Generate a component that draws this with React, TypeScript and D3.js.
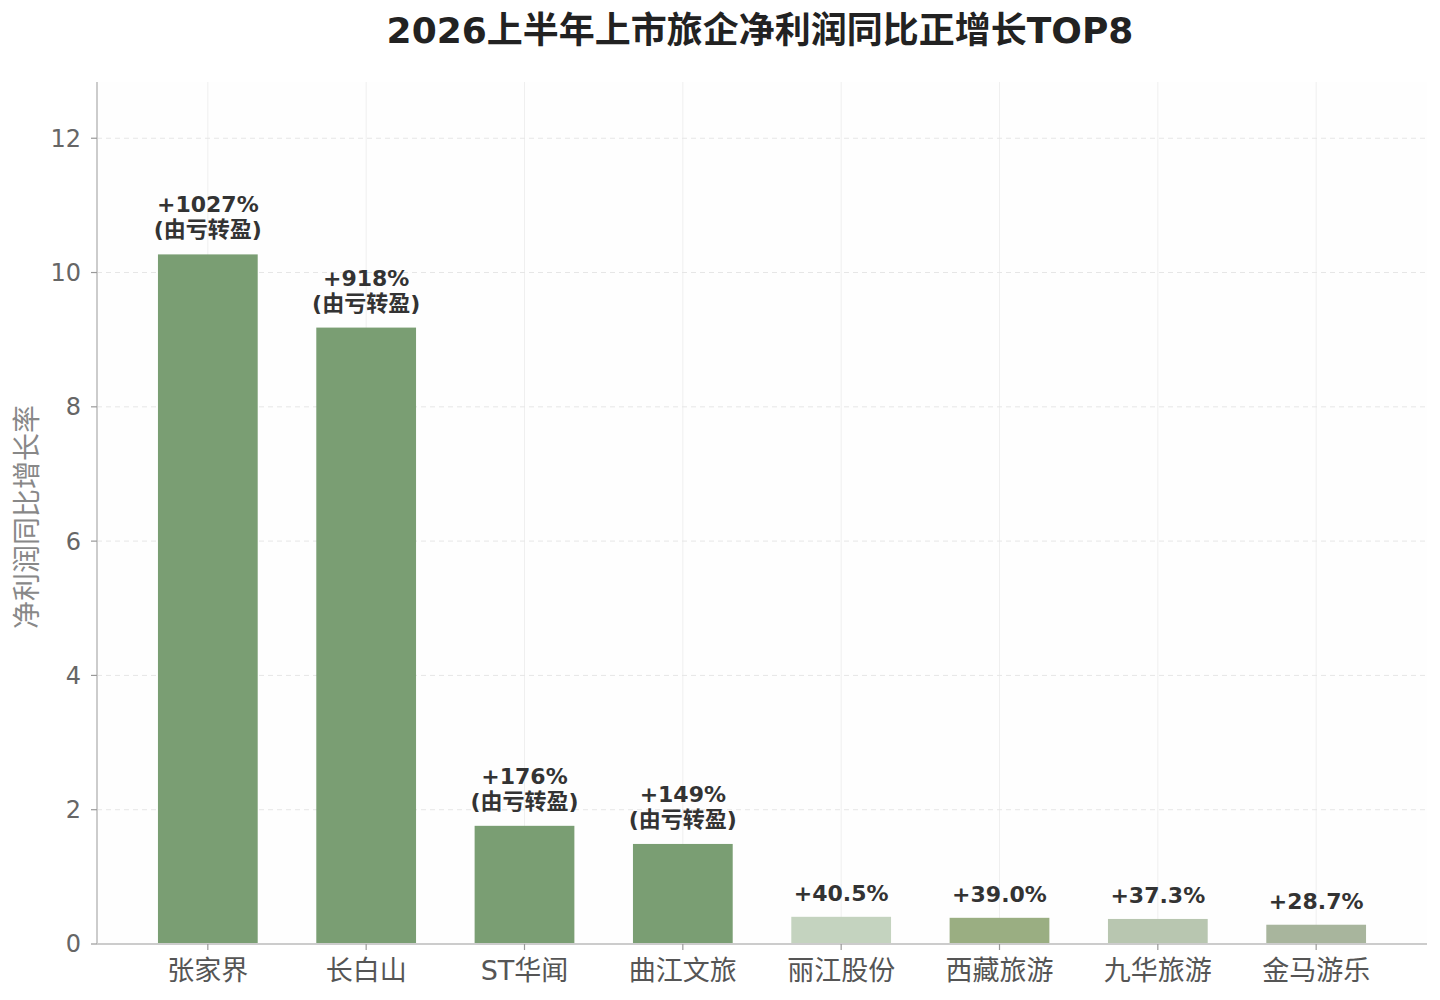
import * as d3 from 'd3'
import { useEffect } from 'react'

// data
const companies = ['张家界', '长白山', 'ST华闻', '曲江文旅', '丽江股份', '西藏旅游', '九华旅游', '金马游乐']
const growthPct = [1027, 918, 176, 149, 40.5, 39.0, 37.3, 28.7]
const turnaround = [true, true, true, true, false, false, false, false]
const barColors = ['#7a9e73', '#7a9e73', '#7a9e73', '#7a9e73', '#c4d3bf', '#9aae82', '#b8c6b0', '#a8b59d']
const yTicks = [0, 2, 4, 6, 8, 10, 12]

const W = 1440
const H = 1000
const MARGIN = { top: 82, right: 13, bottom: 56, left: 97 }

const CJK = "'DejaVu Sans', 'Noto Sans CJK SC', sans-serif"

const fmtPct = (p: number) => (p >= 100 ? `+${p}%` : `+${p.toFixed(1)}%`)

export default function App() {
    useEffect(() => {
        document.body.style.margin = '0'
    }, [])

    const values = growthPct.map((p) => p / 100)
    const x0 = MARGIN.left
    const x1 = W - MARGIN.right
    const yBase = H - MARGIN.bottom

    const xScale = d3.scaleLinear().domain([-0.7, companies.length - 0.3]).range([x0, x1])
    const yScale = d3.scaleLinear().domain([0, d3.max(values)! * 1.25]).range([yBase, MARGIN.top])
    const barW = xScale(0.63) - xScale(0)

    return (
        <svg width={W} height={H} style={{ display: 'block', background: '#fff' }} fontFamily={CJK}>
            <text x={760} y={43} textAnchor="middle" fontSize={36} fontWeight="bold" fill="#222">
                2026上半年上市旅企净利润同比正增长TOP8
            </text>

            {/* plot area */}
            <rect x={x0} y={MARGIN.top} width={x1 - x0} height={yBase - MARGIN.top} fill="#fefefe" />

            {/* grid */}
            {companies.map((c, i) => (
                <line key={c} x1={xScale(i)} x2={xScale(i)} y1={MARGIN.top} y2={yBase} stroke="#efefef" strokeWidth={1} />
            ))}
            {yTicks.slice(1).map((t) => (
                <line key={t} x1={x0} x2={x1} y1={yScale(t)} y2={yScale(t)} stroke="#e6e6e6" strokeWidth={1} strokeDasharray="5,4" />
            ))}

            {/* bars */}
            {values.map((v, i) => (
                <rect
                    key={companies[i]}
                    x={xScale(i) - barW / 2}
                    y={yScale(v)}
                    width={barW}
                    height={yBase - yScale(v)}
                    fill={barColors[i]}
                />
            ))}

            {/* value labels */}
            {values.map((v, i) => {
                const top = yScale(v)
                return turnaround[i] ? (
                    <g key={companies[i]} fontWeight="bold" fontSize={22} fill="#333" textAnchor="middle">
                        <text x={xScale(i)} y={top - 42}>{fmtPct(growthPct[i])}</text>
                        <text x={xScale(i)} y={top - 17}>(由亏转盈)</text>
                    </g>
                ) : (
                    <text key={companies[i]} x={xScale(i)} y={top - 16} fontWeight="bold" fontSize={22} fill="#333" textAnchor="middle">
                        {fmtPct(growthPct[i])}
                    </text>
                )
            })}

            {/* spines */}
            <line x1={x0} x2={x0} y1={MARGIN.top} y2={yBase} stroke="#cccccc" strokeWidth={2} />
            <line x1={x0} x2={x1} y1={yBase} y2={yBase} stroke="#cccccc" strokeWidth={2} />

            {/* y axis */}
            {yTicks.map((t) => (
                <g key={t}>
                    <line x1={x0 - 6} x2={x0} y1={yScale(t)} y2={yScale(t)} stroke="#999" strokeWidth={1.2} />
                    <text x={x0 - 16} y={yScale(t)} dy="0.35em" textAnchor="end" fontSize={24} fill="#666">
                        {t}
                    </text>
                </g>
            ))}

            {/* x axis */}
            {companies.map((c, i) => (
                <g key={c}>
                    <line x1={xScale(i)} x2={xScale(i)} y1={yBase} y2={yBase + 6} stroke="#999" strokeWidth={1.2} />
                    <text x={xScale(i)} y={yBase + 36} textAnchor="middle" fontSize={27} fill="#555">
                        {c}
                    </text>
                </g>
            ))}

            <text
                transform={`translate(37, ${(MARGIN.top + yBase) / 2 + 4}) rotate(-90)`}
                textAnchor="middle"
                fontSize={28}
                fill="#888"
            >
                净利润同比增长率
            </text>
        </svg>
    )
}
